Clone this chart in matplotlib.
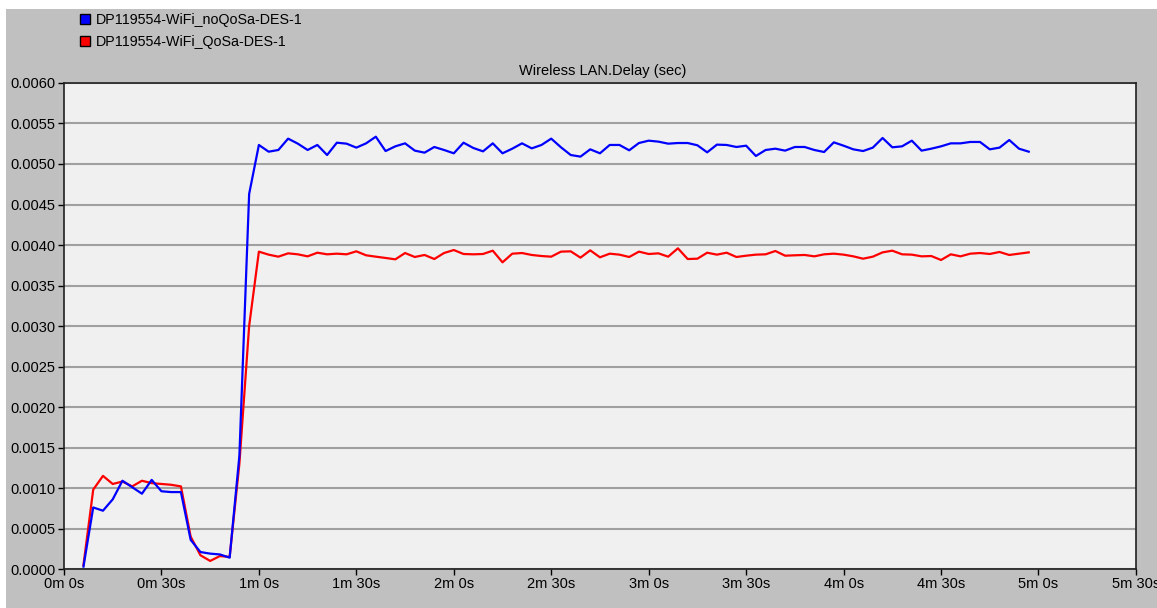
import numpy as np
import matplotlib.pyplot as plt
from matplotlib.patches import Patch, Rectangle

plt.rcParams['font.family'] = ['Liberation Sans', 'DejaVu Sans']

# sample times (seconds), one sample every 3 s
times = np.arange(6, 298, 3)

# Wireless LAN delay (sec), no QoS
delay_noqos = [
    0.00003, 0.00076, 0.00072, 0.00086, 0.00109, 0.00101, 0.00093, 0.00110,
    0.00096, 0.00095, 0.00095, 0.00036, 0.00021, 0.00019, 0.00018, 0.00014,
    0.00140, 0.00463,
    0.005235, 0.005152, 0.005173, 0.005313, 0.005251, 0.005173, 0.005235, 0.005111,
    0.005263, 0.005251, 0.005202, 0.005255, 0.005337, 0.005160, 0.005218, 0.005255,
    0.005165, 0.005140, 0.005210, 0.005173, 0.005132, 0.005263, 0.005198, 0.005156,
    0.005255, 0.005132, 0.005189, 0.005255, 0.005193, 0.005235, 0.005313, 0.005206,
    0.005111, 0.005091, 0.005181, 0.005132, 0.005235, 0.005235, 0.005169, 0.005259,
    0.005288, 0.005276, 0.005251, 0.005259, 0.005259, 0.005231, 0.005144, 0.005239,
    0.005235, 0.005210, 0.005226, 0.005099, 0.005173, 0.005189, 0.005165, 0.005210,
    0.005210, 0.005173, 0.005148, 0.005267, 0.005226, 0.005181, 0.005160, 0.005202,
    0.005321, 0.005206, 0.005218, 0.005288, 0.005165, 0.005189, 0.005218, 0.005255,
    0.005255, 0.005272, 0.005272, 0.005181, 0.005202, 0.005296, 0.005189, 0.005152,
]

# Wireless LAN delay (sec), with QoS
delay_qos = [
    0.00005, 0.00098, 0.00115, 0.00105, 0.00108, 0.00102, 0.00109, 0.00106,
    0.00105, 0.00104, 0.00102, 0.00040, 0.00017, 0.00010, 0.00016, 0.00015,
    0.00130, 0.00300,
    0.003918, 0.003881, 0.003856, 0.003897, 0.003885, 0.003860, 0.003905, 0.003885,
    0.003893, 0.003885, 0.003922, 0.003873, 0.003856, 0.003840, 0.003823, 0.003901,
    0.003852, 0.003877, 0.003827, 0.003901, 0.003938, 0.003889, 0.003885, 0.003889,
    0.003930, 0.003786, 0.003893, 0.003901, 0.003877, 0.003864, 0.003856, 0.003918,
    0.003922, 0.003844, 0.003934, 0.003848, 0.003893, 0.003881, 0.003852, 0.003918,
    0.003889, 0.003897, 0.003856, 0.003959, 0.003827, 0.003831, 0.003905, 0.003881,
    0.003905, 0.003852, 0.003868, 0.003881, 0.003885, 0.003926, 0.003868, 0.003873,
    0.003877, 0.003860, 0.003885, 0.003893, 0.003881, 0.003860, 0.003831, 0.003856,
    0.003909, 0.003930, 0.003885, 0.003881, 0.003860, 0.003864, 0.003815, 0.003885,
    0.003860, 0.003893, 0.003901, 0.003889, 0.003914, 0.003877, 0.003893, 0.003909,
]

series_names = ['DP119554-WiFi_noQoSa-DES-1', 'DP119554-WiFi_QoSa-DES-1']
x_ticks = np.arange(0, 331, 30)
x_tick_labels = ['%dm %ds' % (t // 60, t % 60) for t in x_ticks]
y_ticks = np.arange(0, 0.00601, 0.0005)

fig = plt.figure(figsize=(11.57, 6.08), dpi=100, facecolor='white')
# grey panel behind everything (thin white margin on top/left like the original)
fig.patches.append(Rectangle((6 / 1157, 0), 1151 / 1157, 599 / 608,
                             transform=fig.transFigure, facecolor='#C0C0C0',
                             edgecolor='none', zorder=-10))

ax = fig.add_axes([0.0553, 0.0641, 0.9265, 0.7994], facecolor='#F0F0F0')

ax.plot(times, delay_qos, color='#FF0000', lw=1.6)
ax.plot(times, delay_noqos, color='#0000FF', lw=1.6)

ax.set_xlim(0, 330)
ax.set_ylim(0, 0.006)
ax.set_xticks(x_ticks)
ax.set_xticklabels(x_tick_labels)
ax.set_yticks(y_ticks)
ax.set_yticklabels(['%.4f' % v for v in y_ticks])
ax.tick_params(labelsize=10.5, length=4, width=1, color='black', pad=2)
ax.yaxis.grid(True, color='#A0A0A0', lw=1.5)
ax.set_axisbelow(True)
for s in ax.spines.values():
    s.set_color('#202020')
    s.set_linewidth(1.2)

fig.text(0.5205, 0.883, 'Wireless LAN.Delay (sec)', ha='center', va='center', fontsize=10.5)

handles = [Patch(facecolor='#0000FF', edgecolor='black'),
           Patch(facecolor='#FF0000', edgecolor='black')]
fig.legend(handles, series_names, loc='upper left', bbox_to_anchor=(0.069, 0.978),
           frameon=False, fontsize=10.3, handlelength=0.7, handleheight=0.7,
           handletextpad=0.4, labelspacing=0.55, borderaxespad=0, borderpad=0)

plt.savefig('out.png', dpi=100, facecolor=fig.get_facecolor())
